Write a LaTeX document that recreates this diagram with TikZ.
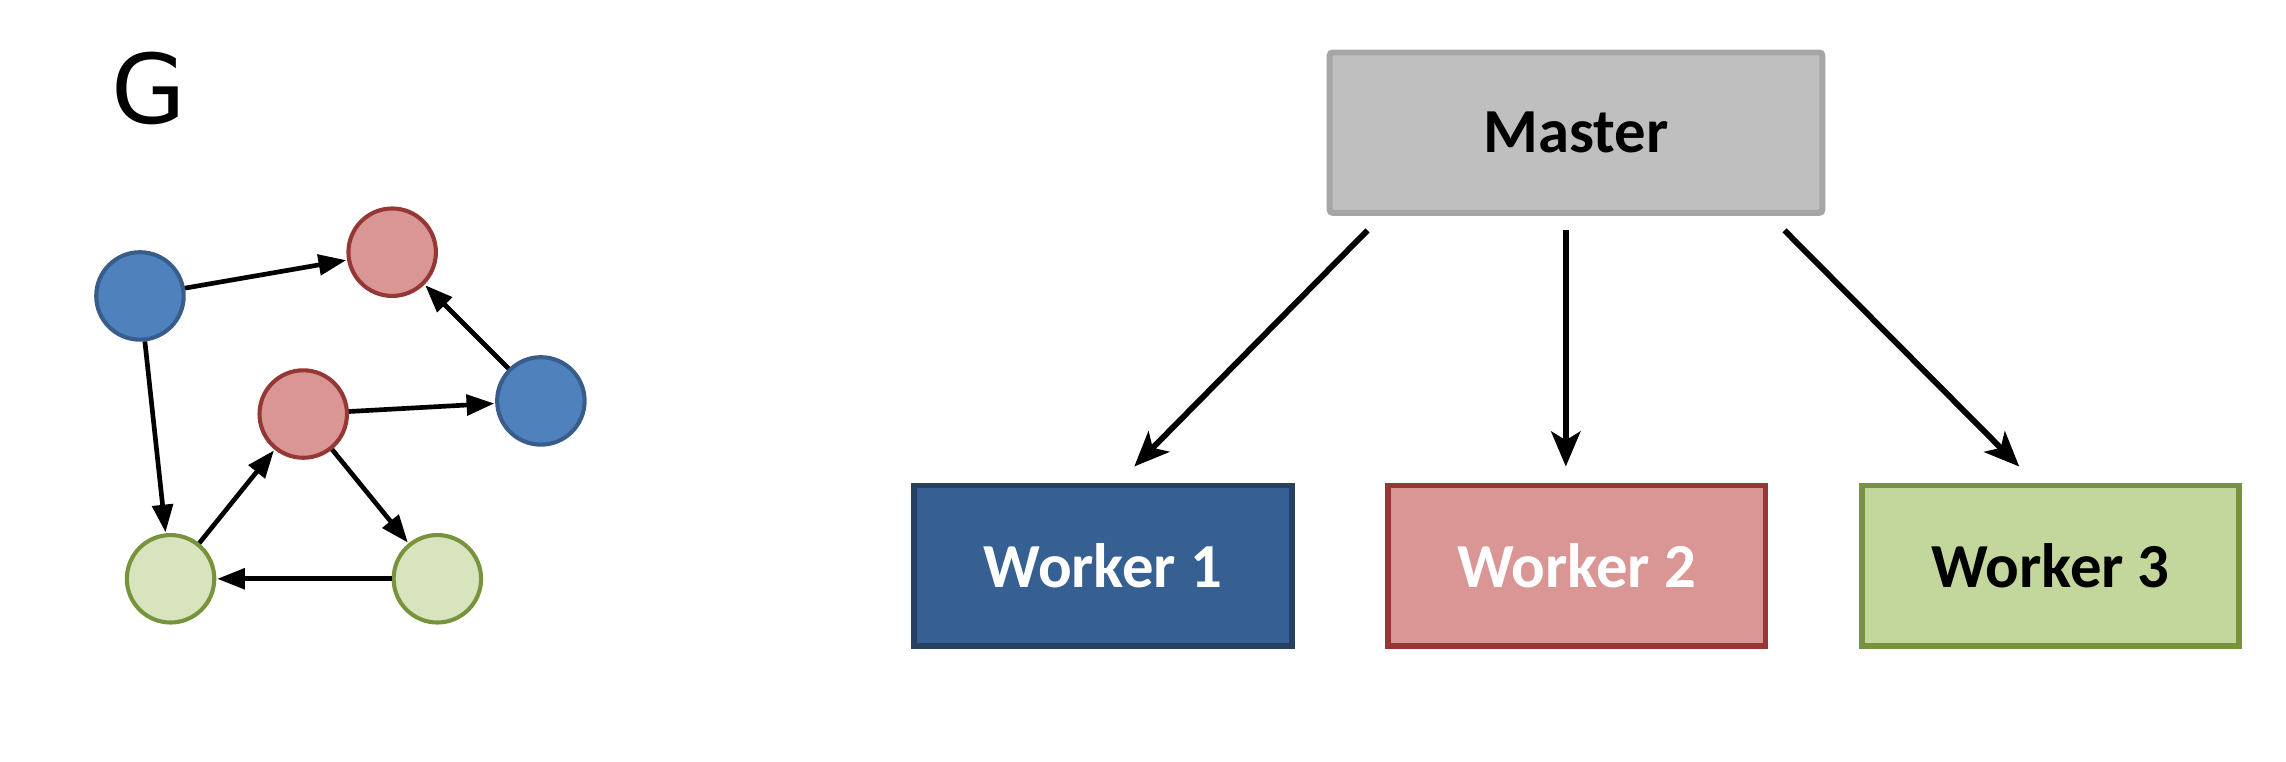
\documentclass[tikz,border=0pt]{standalone}
\usepackage{fontspec}
\setmainfont{Carlito}
\newfontfamily\gfont{DejaVu Sans}
\usetikzlibrary{arrows.meta}
\definecolor{bluef}{HTML}{4F81BD}
\definecolor{blued}{HTML}{385D8A}
\definecolor{redf}{HTML}{D99694}
\definecolor{redd}{HTML}{953735}
\definecolor{greenf}{HTML}{D7E4BD}
\definecolor{greend}{HTML}{77933C}
\definecolor{mastf}{HTML}{BFBFBF}
\definecolor{mastd}{HTML}{A6A6A6}
\definecolor{w1f}{HTML}{376092}
\definecolor{w1d}{HTML}{254061}
\definecolor{w3f}{HTML}{C3D69B}
\tikzset{
  vtx/.style={circle, minimum size=30pt, inner sep=0pt, line width=1.4pt},
  bv/.style={vtx, fill=bluef, draw=blued},
  rv/.style={vtx, fill=redf, draw=redd},
  gv/.style={vtx, fill=greenf, draw=greend},
  gedge/.style={line width=1.6pt, -{Triangle[length=9.5pt,width=7pt]}, shorten >=0.3pt},
  box/.style={rectangle, minimum width=129.5pt, minimum height=55pt, line width=2pt, font=\bfseries\fontsize{21.5}{24}\selectfont},
  warrow/.style={line width=2pt, -{Stealth[length=12pt,width=10pt,inset=3pt]}}
}
\begin{document}
\begin{tikzpicture}[x=0.5pt,y=-0.5pt]
\useasboundingbox (0,0) rectangle (1568,522);
% graph G
\node[font=\gfont\fontsize{33}{36}\selectfont] (G) at (102,61) {G};
\node[bv] (b1) at (96,203) {};
\node[rv] (r1) at (269,173) {};
\node[rv] (r2) at (208,284) {};
\node[bv] (b2) at (371,275) {};
\node[gv] (g1) at (117,397) {};
\node[gv] (g2) at (300,397) {};
\draw[gedge] (b1) -- (r1);
\draw[gedge] (b2) -- (r1);
\draw[gedge] (r2) -- (b2);
\draw[gedge] (b1) -- (g1);
\draw[gedge] (g1) -- (r2);
\draw[gedge] (r2) -- (g2);
\draw[gedge] (g2) -- (g1);
% master / workers
\node[box, minimum width=169pt, fill=mastf, draw=mastd, rounded corners=1pt] (M) at (1081,91) {Master};
\node[box, fill=w1f, draw=w1d, text=white] (W1) at (756.5,388) {Worker 1};
\node[box, fill=redf, draw=redd, text=white] (W2) at (1081.5,388) {Worker 2};
\node[box, fill=w3f, draw=greend, text=black] (W3) at (1406.5,388) {Worker 3};
\coordinate (s1) at (938,158);
\coordinate (s2) at (1074,158);
\coordinate (s3) at (1224,158);
\coordinate (e1) at (778,320);
\coordinate (e2) at (1074,320);
\coordinate (e3) at (1385,320);
\draw[warrow] (s1) -- (e1);
\draw[warrow] (s2) -- (e2);
\draw[warrow] (s3) -- (e3);
\end{tikzpicture}
\end{document}
